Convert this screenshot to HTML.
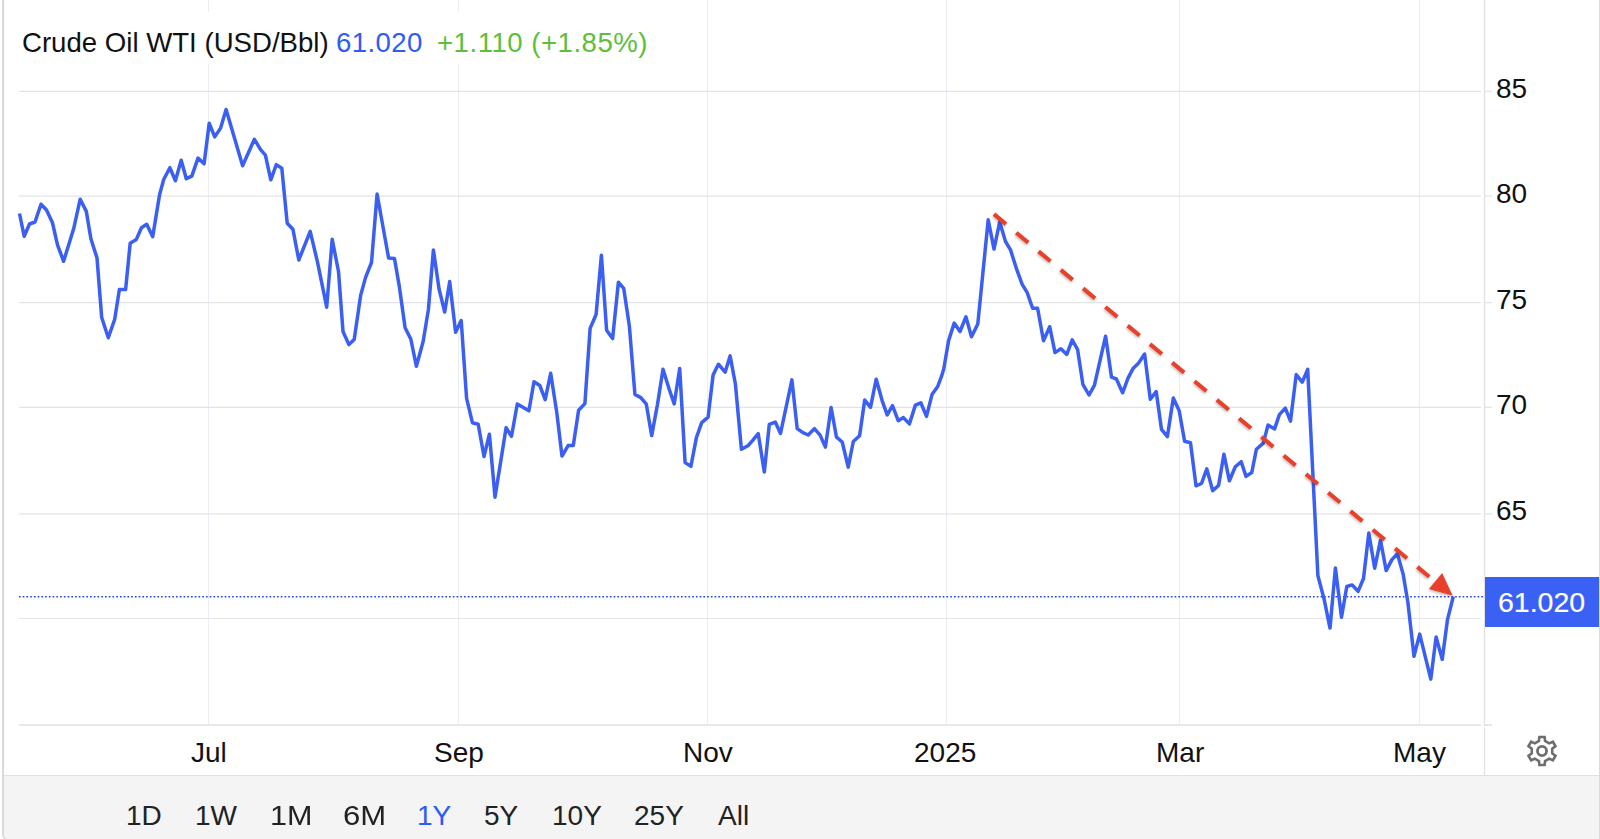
<!DOCTYPE html>
<html><head><meta charset="utf-8"><style>
html,body{margin:0;padding:0;width:1600px;height:839px;overflow:hidden;background:#fff;font-family:"Liberation Sans", sans-serif;}
.t{position:absolute;white-space:nowrap;line-height:1;}
.bar{position:absolute;left:4px;top:775px;width:1595px;height:64px;background:#f4f4f4;border-top:1.5px solid #e2e2e2;box-sizing:border-box;border-bottom-left-radius:4px}
.pl{position:absolute;left:1485px;top:577px;width:114px;height:50px;background:#3b60f4;}
</style></head><body>
<svg width="1600" height="839" viewBox="0 0 1600 839" style="position:absolute;left:0;top:0"><line x1="208.5" y1="0" x2="208.5" y2="724" stroke="#e9eef4" stroke-width="1"/><line x1="458.5" y1="0" x2="458.5" y2="724" stroke="#e9eef4" stroke-width="1"/><line x1="707.5" y1="0" x2="707.5" y2="724" stroke="#e9eef4" stroke-width="1"/><line x1="946.5" y1="0" x2="946.5" y2="724" stroke="#e9eef4" stroke-width="1"/><line x1="1179.5" y1="0" x2="1179.5" y2="724" stroke="#e9eef4" stroke-width="1"/><line x1="1419.5" y1="0" x2="1419.5" y2="724" stroke="#e9eef4" stroke-width="1"/><rect x="15" y="12" width="650" height="52" fill="#ffffff"/><line x1="19" y1="91.4" x2="1481" y2="91.4" stroke="#e4e4e4" stroke-width="1.2"/><line x1="1485" y1="91.4" x2="1492" y2="91.4" stroke="#e4e4e4" stroke-width="1.2"/><line x1="19" y1="196.1" x2="1481" y2="196.1" stroke="#e4e4e4" stroke-width="1.2"/><line x1="1485" y1="196.1" x2="1492" y2="196.1" stroke="#e4e4e4" stroke-width="1.2"/><line x1="19" y1="302.7" x2="1481" y2="302.7" stroke="#e4e4e4" stroke-width="1.2"/><line x1="1485" y1="302.7" x2="1492" y2="302.7" stroke="#e4e4e4" stroke-width="1.2"/><line x1="19" y1="407.3" x2="1481" y2="407.3" stroke="#e4e4e4" stroke-width="1.2"/><line x1="1485" y1="407.3" x2="1492" y2="407.3" stroke="#e4e4e4" stroke-width="1.2"/><line x1="19" y1="513.9" x2="1481" y2="513.9" stroke="#e4e4e4" stroke-width="1.2"/><line x1="1485" y1="513.9" x2="1492" y2="513.9" stroke="#e4e4e4" stroke-width="1.2"/><line x1="19" y1="618.5" x2="1481" y2="618.5" stroke="#e4e4e4" stroke-width="1.2"/><line x1="1485" y1="618.5" x2="1492" y2="618.5" stroke="#e4e4e4" stroke-width="1.2"/><line x1="19" y1="725" x2="1481" y2="725" stroke="#e2e2e2" stroke-width="1.6"/><line x1="1485" y1="725" x2="1492" y2="725" stroke="#e2e2e2" stroke-width="1.6"/><line x1="1484.5" y1="0" x2="1484.5" y2="726" stroke="#e2e2e2" stroke-width="1.4"/><line x1="1484.5" y1="728" x2="1484.5" y2="775" stroke="#e2e2e2" stroke-width="1.4"/><path d="M3.1 0 L3.1 834 Q3.1 839.5 8.5 839.5" fill="none" stroke="#d8d9db" stroke-width="2"/><line x1="1599.5" y1="0" x2="1599.5" y2="839" stroke="#dcdcdc" stroke-width="1"/><line x1="19" y1="596.8" x2="1485" y2="596.8" stroke="#1f3ff5" stroke-width="1.6" stroke-dasharray="1.6 2.14"/><path d="M19.5 213.5 L24.2 236.3 L29.5 224.0 L35.0 222.0 L41.0 204.2 L46.5 210.0 L52.4 222.5 L57.5 244.8 L63.6 261.3 L73.7 228.6 L80.2 199.2 L86.3 211.4 L90.9 238.7 L97.0 258.0 L101.7 317.5 L108.3 337.8 L114.7 319.3 L119.4 289.5 L125.6 289.5 L130.2 243.2 L136.3 239.4 L141.5 227.7 L146.7 224.3 L152.7 236.7 L157.0 210.4 L159.6 194.6 L163.7 179.5 L169.9 167.7 L175.4 180.8 L181.2 160.2 L186.3 178.7 L191.8 176.1 L198.0 158.1 L204.1 163.7 L209.2 123.2 L214.7 136.9 L220.6 128.1 L226.1 109.5 L242.6 165.8 L254.4 139.3 L260.6 149.7 L265.4 155.2 L270.8 179.8 L276.3 164.6 L281.8 168.2 L287.2 223.2 L292.9 229.2 L298.8 260.0 L310.2 231.4 L317.4 261.7 L326.7 307.2 L332.2 239.3 L338.5 271.5 L343.0 331.5 L348.9 344.6 L354.2 339.4 L360.7 295.1 L365.6 277.4 L371.5 262.5 L377.1 194.0 L383.6 230.3 L388.6 257.9 L394.5 258.6 L399.4 286.9 L405.1 327.7 L410.8 339.0 L416.4 366.3 L423.2 341.3 L428.4 309.5 L433.4 249.9 L439.1 289.2 L444.7 312.0 L449.7 281.6 L455.6 332.3 L461.2 320.5 L466.6 398.3 L472.4 422.7 L478.2 424.3 L484.0 456.5 L489.4 434.2 L495.0 497.2 L506.1 427.7 L511.5 436.3 L517.3 404.0 L528.9 410.8 L534.0 381.7 L539.8 385.5 L545.2 399.6 L550.7 373.2 L556.8 412.8 L562.0 456.1 L568.1 445.6 L573.3 445.6 L578.6 410.2 L584.9 403.6 L590.1 328.4 L596.1 314.5 L601.4 255.2 L606.6 330.2 L612.6 338.6 L618.4 282.2 L623.7 288.3 L629.4 326.3 L634.9 394.4 L640.8 397.6 L646.3 404.2 L651.7 435.6 L657.5 404.2 L663.0 369.2 L669.2 389.2 L674.2 403.9 L679.7 368.4 L685.1 462.6 L690.9 466.4 L696.4 437.6 L701.7 422.6 L708.1 417.1 L713.1 375.0 L718.4 364.2 L725.1 372.2 L730.1 355.9 L735.4 384.0 L741.4 449.3 L747.9 445.8 L752.9 440.1 L758.2 433.6 L764.3 472.1 L769.3 424.4 L775.3 422.1 L780.5 433.5 L791.9 379.9 L797.2 428.6 L802.9 432.7 L808.2 435.0 L814.4 428.6 L820.1 435.1 L825.4 447.1 L831.1 407.5 L836.5 437.2 L842.2 442.0 L848.2 467.1 L853.3 441.5 L859.6 435.8 L864.7 400.0 L870.5 407.4 L876.2 379.2 L882.2 400.8 L887.2 414.9 L892.5 405.7 L898.2 420.7 L903.4 417.6 L909.4 423.9 L915.4 405.1 L920.8 402.8 L926.5 416.4 L932.0 394.6 L937.7 386.5 L941.5 376.4 L943.8 368.7 L948.6 340.6 L954.2 323.1 L960.0 331.5 L965.9 316.8 L971.5 336.7 L977.8 323.9 L988.2 219.8 L994.0 249.1 L999.7 221.9 L1005.5 241.5 L1010.5 249.8 L1016.8 269.7 L1022.2 284.3 L1027.2 292.6 L1032.6 308.3 L1037.6 308.3 L1043.5 340.7 L1049.7 326.7 L1055.0 352.6 L1060.9 348.7 L1066.8 354.4 L1072.2 339.8 L1077.6 349.5 L1082.9 384.4 L1089.0 395.0 L1094.4 385.3 L1105.6 336.2 L1111.5 377.2 L1116.4 379.0 L1122.6 392.8 L1128.0 378.1 L1133.0 368.6 L1138.7 362.9 L1144.6 354.0 L1150.3 399.2 L1156.2 391.6 L1161.5 429.4 L1167.4 436.6 L1173.3 398.1 L1179.2 410.7 L1184.6 441.2 L1190.5 442.8 L1196.0 485.8 L1201.5 483.5 L1206.8 468.9 L1212.7 490.7 L1218.6 485.4 L1223.9 454.2 L1229.4 480.8 L1235.3 466.8 L1241.2 461.7 L1246.0 476.4 L1251.8 472.5 L1256.4 449.2 L1263.3 443.1 L1268.0 425.1 L1274.6 428.9 L1279.4 414.6 L1285.3 408.1 L1290.5 421.1 L1296.2 374.6 L1302.2 382.2 L1307.7 369.4 L1317.9 575.8 L1324.1 599.1 L1330.0 628.1 L1335.4 567.9 L1341.5 617.3 L1346.8 586.5 L1352.2 584.9 L1358.1 591.4 L1363.5 578.5 L1368.8 533.0 L1374.7 568.2 L1380.5 540.2 L1386.2 570.6 L1391.9 559.6 L1397.4 553.8 L1403.1 573.9 L1407.9 602.5 L1414.0 656.2 L1419.7 634.1 L1430.8 679.1 L1436.1 636.9 L1442.2 659.4 L1447.5 619.6 L1453.3 596.5" fill="none" stroke="#3a5ff2" stroke-width="3.5" stroke-linejoin="round" stroke-linecap="butt"/><defs><filter id="sh" x="-20%" y="-20%" width="140%" height="140%"><feDropShadow dx="-0.6" dy="1.4" stdDeviation="0.8" flood-color="#000" flood-opacity="0.28"/></filter></defs><g filter="url(#sh)"><line x1="994.0" y1="214.2" x2="1429.24" y2="576.76" stroke="#e8412a" stroke-width="4.1" stroke-dasharray="15.5 13.5"/><polygon points="1452.7,595.8 1428.9,589.1 1442.2,572.9" fill="#e8412a"/></g><path d="M1538.93 740.96 L1539.39 736.94 L1544.61 736.94 L1545.07 740.96 L1549.16 743.32 L1552.87 741.71 L1555.48 746.23 L1552.23 748.64 L1552.23 753.36 L1555.48 755.77 L1552.87 760.29 L1549.16 758.68 L1545.07 761.04 L1544.61 765.06 L1539.39 765.06 L1538.93 761.04 L1534.84 758.68 L1531.13 760.29 L1528.52 755.77 L1531.77 753.36 L1531.77 748.64 L1528.52 746.23 L1531.13 741.71 L1534.84 743.32 Z" fill="none" stroke="#6e6e6e" stroke-width="2.6" stroke-linejoin="miter"/><circle cx="1542" cy="751" r="4.55" fill="none" stroke="#6e6e6e" stroke-width="2.8"/></svg>
<div class="t" style="left:22px;top:28.5px;font-size:27.6px;color:#111">Crude Oil WTI (USD/Bbl)</div>
<div class="t" style="left:336px;top:28.5px;font-size:27.6px;color:#2e5bf6;letter-spacing:0.4px">61.020</div>
<div class="t" style="left:437px;top:28.5px;font-size:27.6px;color:#5cbf3c;letter-spacing:0.5px">+1.110 (+1.85%)</div>
<div class="t" style="left:1496px;top:74.5px;font-size:28px;color:#111">85</div>
<div class="t" style="left:1496px;top:179.5px;font-size:28px;color:#111">80</div>
<div class="t" style="left:1496px;top:285.5px;font-size:28px;color:#111">75</div>
<div class="t" style="left:1496px;top:390.5px;font-size:28px;color:#111">70</div>
<div class="t" style="left:1496px;top:496.5px;font-size:28px;color:#111">65</div>
<div class="t" style="left:1496px;top:602.5px;font-size:28px;color:#111">60</div>
<div class="pl"></div>
<div class="t" style="left:1498px;top:587.8px;font-size:28.5px;color:#fff;-webkit-text-stroke:0.2px #fff">61.020</div>
<div class="t" style="left:191px;top:739px;font-size:28px;color:#111">Jul</div>
<div class="t" style="left:434px;top:739px;font-size:28px;color:#111">Sep</div>
<div class="t" style="left:683px;top:739px;font-size:28px;color:#111">Nov</div>
<div class="t" style="left:914px;top:739px;font-size:28px;color:#111">2025</div>
<div class="t" style="left:1156px;top:739px;font-size:28px;color:#111">Mar</div>
<div class="t" style="left:1393px;top:739px;font-size:28px;color:#111">May</div>
<div class="bar"></div>
<div class="t" style="left:126px;top:801.5px;font-size:28px;color:#222">1D</div>
<div class="t" style="left:195px;top:801.5px;font-size:28px;color:#222">1W</div>
<div class="t" style="left:270px;top:801.5px;font-size:28px;color:#222;transform:scaleX(1.09);transform-origin:0 0">1M</div>
<div class="t" style="left:343px;top:801.5px;font-size:28px;color:#222;transform:scaleX(1.11);transform-origin:0 0">6M</div>
<div class="t" style="left:417px;top:801.5px;font-size:28px;color:#2e5bf6">1Y</div>
<div class="t" style="left:484px;top:801.5px;font-size:28px;color:#222">5Y</div>
<div class="t" style="left:552px;top:801.5px;font-size:28px;color:#222">10Y</div>
<div class="t" style="left:634px;top:801.5px;font-size:28px;color:#222">25Y</div>
<div class="t" style="left:718px;top:801.5px;font-size:28px;color:#222">All</div>
</body></html>
